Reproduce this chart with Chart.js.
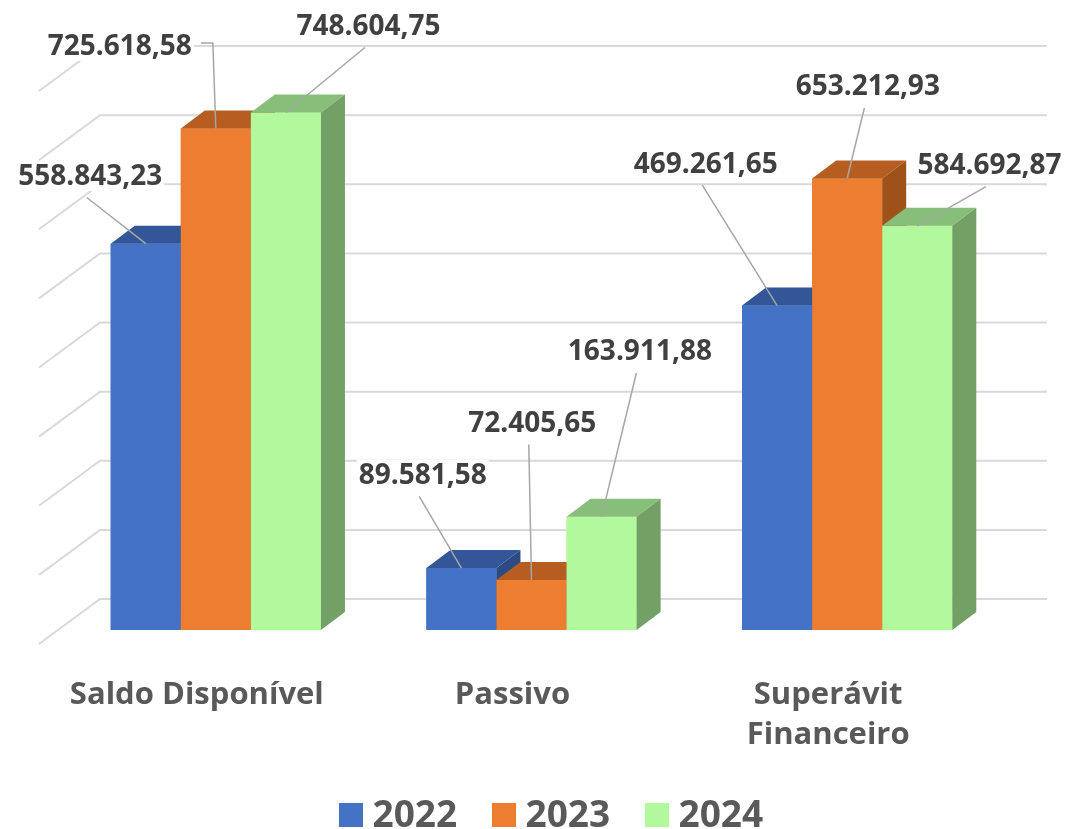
<!DOCTYPE html>
<html>
<head>
<meta charset="utf-8">
<script src="https://cdn.jsdelivr.net/npm/chart.js@4.4.1/dist/chart.umd.min.js"></script>
<style>
html,body{margin:0;padding:0;background:#ffffff;overflow:hidden;}
canvas{display:block;}
</style>
</head>
<body>
<canvas id="chart" width="1066" height="829"></canvas>
<script>
// ---- data ----
const categories = ['Saldo Disponível', 'Passivo', ['Superávit', 'Financeiro']];
const seriesNames = ['2022', '2023', '2024'];
const values2022 = [558843.23, 89581.58, 469261.65];
const values2023 = [725618.58, 72405.65, 653212.93];
const values2024 = [748604.75, 163911.88, 584692.87];
const gridTicks = [0, 100000, 200000, 300000, 400000, 500000, 600000, 700000, 800000];

// ---- styling ----
const FONT = '"Open Sans", "Noto Sans", sans-serif';
const frontColors = ['#4472C4', '#ED7D31', '#B2F99E'];
const topColors   = ['#325698', '#B65E22', '#87BE79'];
const sideColors  = ['#2C4B84', '#9E5119', '#72A065'];
const depth = { dx: 24, dy: -18 };       // bar depth (3D)
const wallShift = { dx: 42, dy: -31 };   // back wall relative to bar front plane
const floorShift = { dx: -19, dy: 14 };  // front floor edge relative to bar front plane
// label placement (text centre relative to bar top-front centre), per series, per category
const labelOffsets = [
  [[-55.5, -68.7], [-38.7, -94.1], [-71.3, -143.1]],
  [[-96, -83.4], [0.8, -158], [20.7, -93]],
  [[82.5, -87.5], [38.3, -166.2], [72.2, -61.8]]
];
const leaderSide = [[false, false, false], [true, false, false], [false, false, false]];

function fmt(v) {
  const parts = v.toFixed(2).split('.');
  return parts[0].replace(/\B(?=(\d{3})+(?!\d))/g, '.') + ',' + parts[1];
}

const seriesValues = [values2022, values2023, values2024];

const wallPlugin = {
  id: 'wall',
  beforeDatasetsDraw(chart) {
    const { ctx, chartArea } = chart;
    const y = chart.scales.y;
    ctx.save();
    ctx.strokeStyle = '#D9D9D9';
    ctx.lineWidth = 2;
    gridTicks.forEach(v => {
      const py = y.getPixelForValue(v) + wallShift.dy;
      const bx = chartArea.left + wallShift.dx;
      ctx.beginPath();
      ctx.moveTo(chartArea.left + floorShift.dx, py - wallShift.dy + floorShift.dy);
      ctx.lineTo(bx, py);
      ctx.lineTo(chartArea.right + wallShift.dx, py);
      ctx.stroke();
    });
    ctx.restore();
  }
};

// Redraw bars left-to-right (series order) with top and side faces, so the
// painter's order gives a correct 3D look.
const bar3dPlugin = {
  id: 'bar3d',
  afterDatasetsDraw(chart) {
    const ctx = chart.ctx;
    ctx.save();
    chart.data.datasets.forEach((ds, di) => {
      const meta = chart.getDatasetMeta(di);
      meta.data.forEach(bar => {
        bar.draw(ctx);
        const p = bar.getProps(['x', 'y', 'base', 'width'], true);
        const l = p.x - p.width / 2, r = p.x + p.width / 2;
        ctx.fillStyle = topColors[di];
        ctx.beginPath();
        ctx.moveTo(l, p.y);
        ctx.lineTo(r, p.y);
        ctx.lineTo(r + depth.dx, p.y + depth.dy);
        ctx.lineTo(l + depth.dx, p.y + depth.dy);
        ctx.closePath();
        ctx.fill();
        ctx.fillStyle = sideColors[di];
        ctx.beginPath();
        ctx.moveTo(r, p.y);
        ctx.lineTo(r + depth.dx, p.y + depth.dy);
        ctx.lineTo(r + depth.dx, p.base + depth.dy);
        ctx.lineTo(r, p.base);
        ctx.closePath();
        ctx.fill();
      });
    });
    ctx.restore();
  }
};

const labelPlugin = {
  id: 'valueLabels',
  afterDatasetsDraw(chart) {
    const ctx = chart.ctx;
    ctx.save();
    ctx.font = 'bold 28px ' + FONT;
    const capH = 20;
    chart.data.datasets.forEach((ds, di) => {
      const meta = chart.getDatasetMeta(di);
      meta.data.forEach((bar, i) => {
        const p = bar.getProps(['x', 'y'], true);
        const cx = p.x + labelOffsets[di][i][0];
        const cy = p.y + labelOffsets[di][i][1];
        const txt = fmt(ds.data[i]);
        const w = ctx.measureText(txt).width;
        ctx.strokeStyle = '#A6A6A6';
        ctx.lineWidth = 1.5;
        ctx.beginPath();
        if (leaderSide[di][i]) {
          const sx = cx + w / 2 + 9, sy = cy - 2;
          ctx.moveTo(sx, sy);
          ctx.lineTo(p.x - 3, sy);
          ctx.lineTo(p.x, p.y);
        } else {
          ctx.moveTo(cx - 3.5, cy + 22.5);
          ctx.lineTo(p.x, p.y);
        }
        ctx.stroke();
        ctx.fillStyle = '#ffffff';
        ctx.fillRect(cx - w / 2 - 2, cy - capH / 2 - 4, w + 4, capH + 10);
        ctx.fillStyle = '#404040';
        ctx.textAlign = 'center';
        ctx.textBaseline = 'alphabetic';
        ctx.fillText(txt, cx, cy + capH / 2);
      });
    });
    ctx.restore();
  }
};

const legendPlugin = {
  id: 'customLegend',
  afterDraw(chart) {
    const ctx = chart.ctx;
    ctx.save();
    ctx.font = 'bold 37px ' + FONT;
    ctx.textAlign = 'left';
    ctx.textBaseline = 'alphabetic';
    const startX = 339, step = 153, boxTop = 803, box = 24;
    chart.data.datasets.forEach((ds, di) => {
      const x = startX + di * step;
      ctx.fillStyle = frontColors[di];
      ctx.fillRect(x, boxTop, box, box);
      ctx.fillStyle = '#595959';
      ctx.fillText(ds.label, x + 33.5, 826.5);
    });
    ctx.restore();
  }
};

const ctx = document.getElementById('chart').getContext('2d');
new Chart(ctx, {
  type: 'bar',
  data: {
    labels: categories,
    datasets: seriesNames.map((name, di) => ({
      label: name,
      data: seriesValues[di],
      backgroundColor: frontColors[di],
      borderWidth: 0,
      categoryPercentage: 0.666,
      barPercentage: 1.0
    }))
  },
  options: {
    responsive: false,
    devicePixelRatio: 1,
    animation: false,
    layout: { padding: { left: 58, right: 61, top: 77, bottom: 0 } },
    plugins: {
      legend: { display: false },
      tooltip: { enabled: false }
    },
    scales: {
      x: {
        position: 'bottom',
        grid: { display: false, drawTicks: false },
        border: { display: false },
        ticks: {
          color: '#595959',
          font: { family: FONT, size: 31, weight: 'bold', lineHeight: 40 / 31 },
          padding: 45,
          labelOffset: -19,
          maxRotation: 0,
          autoSkip: false
        },
        afterFit(scale) { scale.height = 199; }
      },
      y: {
        display: false,
        min: 0,
        max: 800000
      }
    }
  },
  plugins: [wallPlugin, bar3dPlugin, labelPlugin, legendPlugin]
});
</script>
</body>
</html>
